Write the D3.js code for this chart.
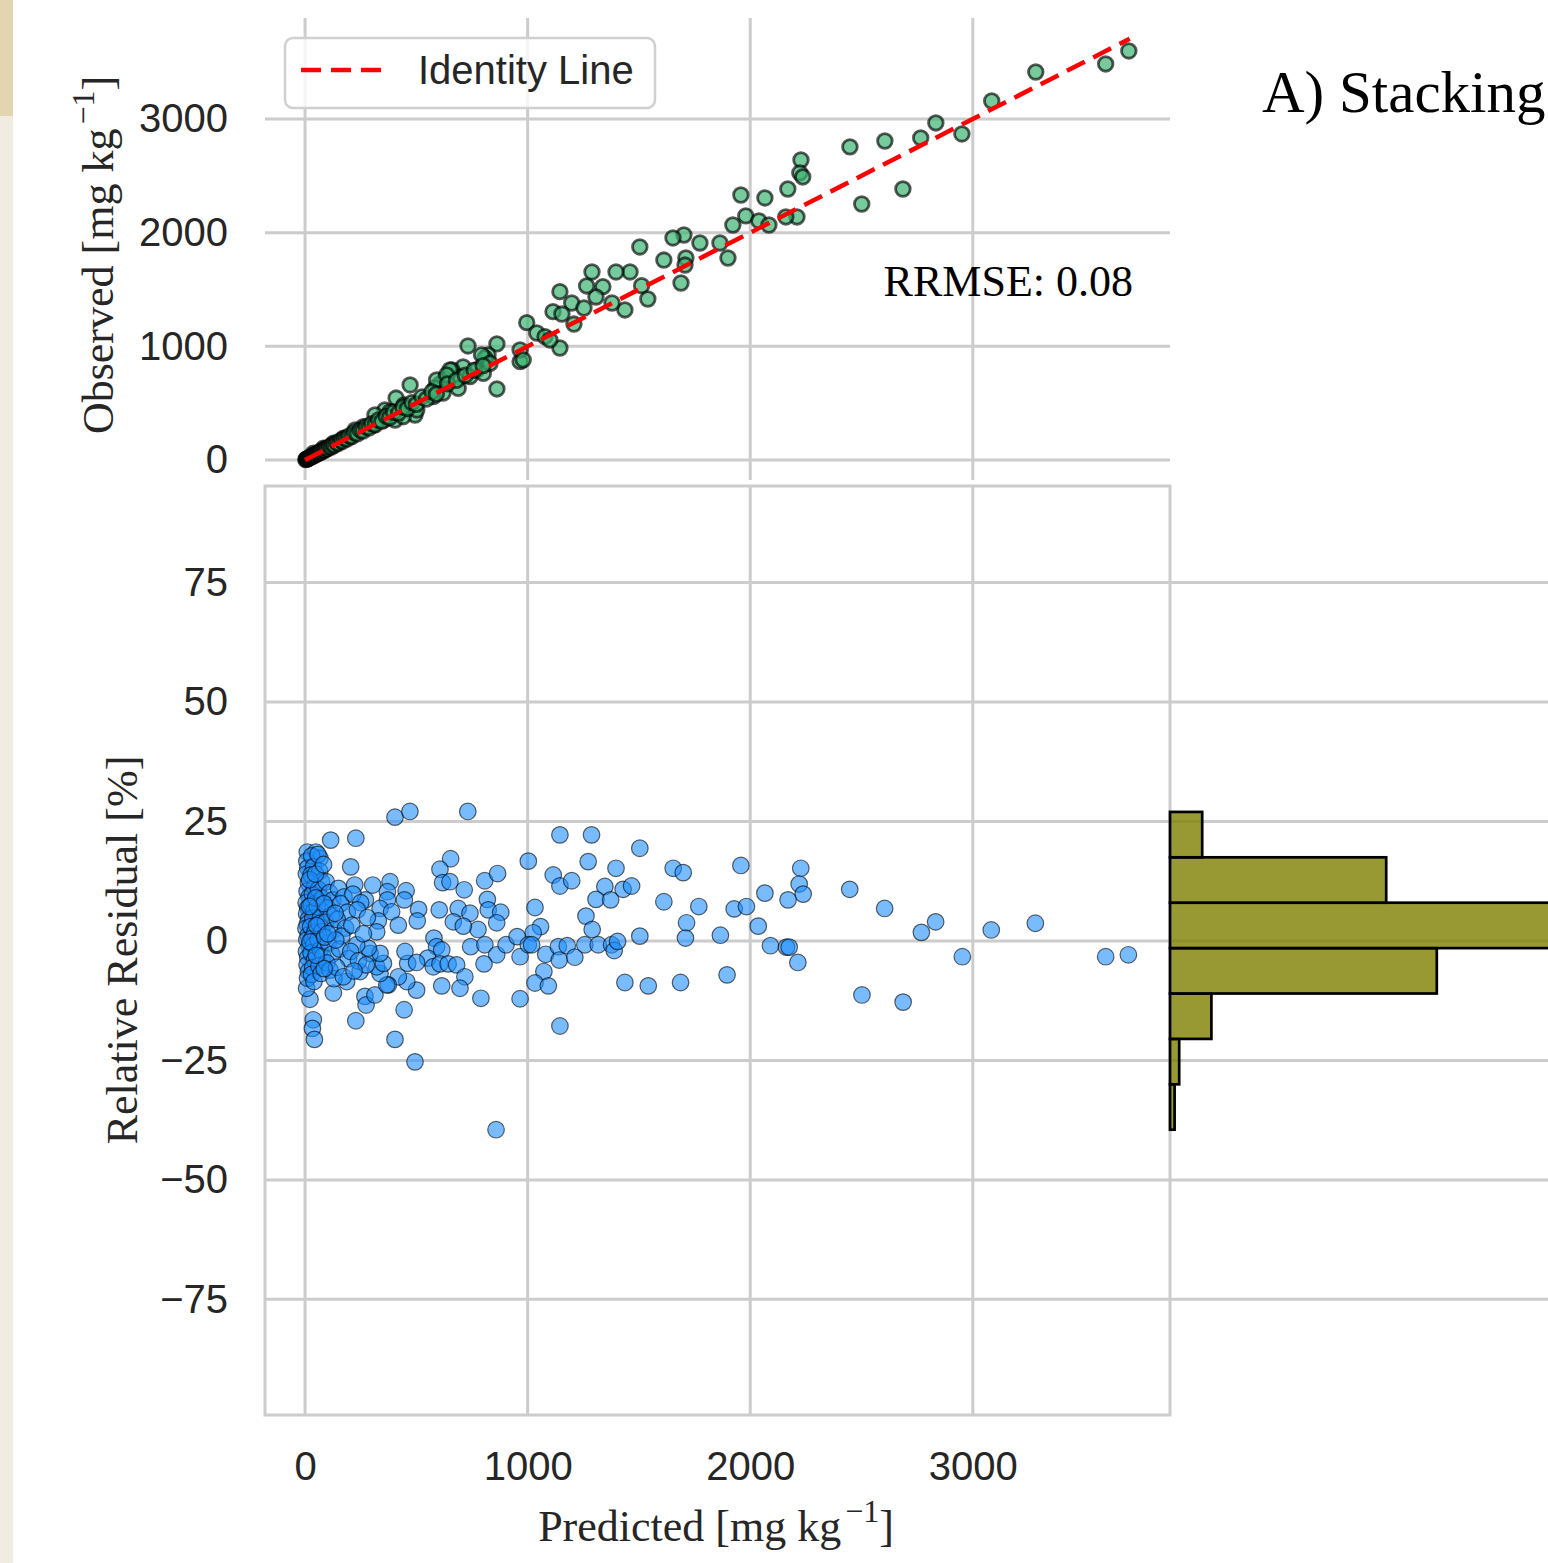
<!DOCTYPE html>
<html>
<head>
<meta charset="utf-8">
<script src="https://cdn.jsdelivr.net/npm/d3@7"></script>
<style>
  body { margin: 0; background: #fff; }
  svg { display: block; }
</style>
</head>
<body>
<div id="chart"></div>
<script>
const width = 1548;
const height = 1563;

// ticks
const xTicks = [0, 1000, 2000, 3000];
const obsTicks = [0, 1000, 2000, 3000];
const resTicks = [-75, -50, -25, 0, 25, 50, 75];

// observed vs predicted, [predicted, observed]
const obsPoints = [
  [3701, 3598], [3597, 3484], [3283, 3413], [3085, 3158], [2951, 2868], [2834, 2965],
  [2766, 2833], [2605, 2806], [2448, 2754], [2686, 2384], [2501, 2252], [2228, 2639],
  [2223, 2525], [2236, 2490], [2169, 2384], [2210, 2138], [2160, 2138], [2066, 2305],
  [1958, 2331], [1980, 2147], [1922, 2067], [2039, 2103], [2084, 2067], [1864, 1909],
  [1900, 1777], [1774, 1909], [1702, 1979], [1653, 1953], [1612, 1759], [1711, 1777],
  [1707, 1715], [1689, 1557], [1504, 1874], [1460, 1654], [1397, 1654], [1289, 1654],
  [1512, 1533], [1540, 1416], [1437, 1320], [1338, 1525], [1307, 1434], [1265, 1531],
  [1379, 1381], [1145, 1481], [1198, 1381], [1114, 1305], [1154, 1284], [1253, 1337],
  [1208, 1196], [996, 1208], [1041, 1117], [1078, 1085], [1145, 985], [1100, 1056],
  [966, 865], [966, 968], [862, 1021], [862, 625], [732, 1003], [822, 924], [808, 897],
  [772, 792], [710, 818], [660, 792], [629, 713], [606, 669], [584, 633], [696, 730],
  [472, 660], [409, 545], [494, 396], [445, 484], [359, 440], [404, 352], [314, 396],
  [620, 589], [651, 792], [591, 704], [636, 748], [741, 733], [793, 924], [801, 763],
  [831, 851], [980, 880], [576, 557], [688, 631], [457, 469], [502, 440], [441, 381],
  [382, 425], [352, 352], [307, 308], [262, 293], [225, 264], [202, 205], [172, 191],
  [127, 147], [82, 103], [37, 59],
  [3, 4], [6, 5], [8, 10], [11, 12], [14, 13], [17, 19], [20, 21], [24, 23], [27, 30],
  [31, 30], [35, 38], [38, 36], [42, 46], [46, 45], [50, 52], [55, 58], [58, 56], [63, 68],
  [68, 66], [72, 78], [78, 76], [84, 90], [90, 88], [96, 104], [102, 100], [110, 118],
  [118, 114], [125, 134], [133, 130], [142, 152], [150, 146], [160, 172], [168, 165],
  [178, 190], [188, 184], [198, 212], [210, 206], [222, 240], [235, 230], [248, 262],
  [260, 255], [275, 292], [288, 282], [300, 320], [315, 310], [330, 352], [345, 340],
  [365, 385], [380, 372], [398, 420], [420, 412], [440, 465], [460, 452], [480, 505],
  [500, 490], [525, 555], [545, 535], [570, 600], [590, 580], [640, 670], [680, 700],
  [720, 745], [760, 790], [800, 830]
];

// relative residual vs predicted, [predicted, residual %]
const resPoints = [
  [404, 25.9], [471, 27.1], [731, 27.1], [115, 21.1], [228, 21.5], [10, 18.6], [49, 18.6],
  [67, 17.3], [205, 15.5], [654, 17.2], [606, 15.0], [618, 12.2], [651, 12.4], [715, 10.7],
  [807, 12.6], [865, 14.1], [819, 8.7], [823, 6.5], [879, 6.0], [861, 3.8], [777, 2.4],
  [603, 6.5], [688, 6.8], [741, 5.8], [666, 4.0], [711, 3.1], [510, 6.6], [504, 4.2],
  [454, 10.5], [446, 8.6], [382, 12.4], [304, 11.7], [370, 10.3], [370, 8.6], [337, 6.8],
  [389, 6.1], [329, 4.2], [419, 3.3], [322, 1.9], [223, 11.7], [271, 8.6], [1003, 16.7],
  [1033, 7.0], [1058, 3.0], [1025, 1.7], [1115, 13.8], [1145, 11.5], [1198, 12.6],
  [1145, 22.2], [1287, 22.2], [1272, 16.6], [1397, 15.2], [1504, 19.4], [1347, 11.4],
  [1307, 8.7], [1373, 8.6], [1429, 10.8], [1467, 11.5], [1262, 5.2], [1290, 2.4],
  [1504, 1.0], [1612, 8.2],
  [579, 0.6], [591, -1.2], [614, -1.9], [551, -3.6], [576, -5.4], [606, -4.8], [643, -4.8],
  [681, -5.0], [744, -1.2], [808, -0.8], [861, -2.9], [903, -0.8], [953, 0.9], [966, -3.3],
  [1003, -0.8], [1018, -0.8], [1081, -2.8], [1138, -1.2], [1142, -4.0], [1178, -1.0],
  [1212, -3.4], [1257, -0.8], [1317, -0.8], [1377, -0.8], [1389, -2.0], [1404, -0.1],
  [804, -4.8], [718, -7.5], [614, -9.4], [696, -9.9], [501, -10.3], [457, -8.5], [461, -4.7],
  [449, -2.2], [501, -4.5], [419, -7.5], [374, -9.2], [966, -12.1], [1073, -6.4],
  [1033, -8.8], [1093, -9.4], [790, -12.0], [1145, -17.8], [1437, -8.7], [1542, -9.4],
  [445, -14.4], [404, -20.6], [494, -25.3], [858, -39.5], [228, -16.7], [269, -11.6],
  [274, -13.4], [314, -11.3], [367, -9.2], [337, -6.8], [127, -10.9], [187, -8.5],
  [22, -12.2], [7, -9.9], [37, -16.5], [33, -18.3], [42, -20.6], [247, -6.4], [322, -5.4],
  [352, -4.7], [292, -2.6], [337, -2.6], [284, -1.5], [232, -0.8],
  [1654, 15.2], [1699, 14.3], [1958, 15.8], [2227, 15.2], [2220, 11.9], [2238, 9.8],
  [2066, 10.0], [2170, 8.6], [2447, 10.8], [2604, 6.8], [2833, 4.0], [2769, 1.8],
  [3083, 2.3], [3281, 3.7], [2953, -3.3], [3597, -3.3], [3699, -2.9], [1769, 7.2],
  [1714, 3.8], [1709, 0.6], [1866, 1.2], [1928, 6.7], [1983, 7.2], [2036, 3.1],
  [2091, -1.0], [2163, -1.3], [2175, -1.3], [2214, -4.5], [1687, -8.7], [1896, -7.1],
  [2502, -11.3], [2687, -12.8],
  // dense cluster at low predicted values
  [8, 16.7], [12, 15.3], [6, 14.0], [15, 12.1], [9, 10.4], [18, 9.2], [5, 8.0], [12, 6.9],
  [7, 5.7], [16, 4.6], [10, 3.5], [4, 2.6], [14, 1.2], [8, 0.2], [18, -1.0], [6, -2.2],
  [12, -3.5], [9, -5.0], [15, -6.4], [11, -7.8],
  [30, 17.8], [38, 15.5], [27, 13.8], [42, 11.2], [33, 9.8], [28, 7.5], [40, 6.2],
  [35, 4.8], [25, 3.0], [44, 1.8], [31, 0.5], [38, -0.9], [27, -2.5], [42, -4.0],
  [34, -5.6], [29, -7.0], [40, -8.5],
  [58, 18.1], [66, 14.6], [74, 12.4], [60, 10.8], [78, 8.9], [55, 7.2], [70, 5.0],
  [63, 3.6], [76, 2.0], [58, 0.3], [68, -1.8], [80, -3.2], [62, -5.2], [72, -6.8],
  [95, 12.4], [110, 10.1], [125, 8.6], [100, 6.9], [118, 5.4], [92, 3.9], [128, 2.3],
  [105, -0.4], [120, -2.8], [98, -4.6], [112, -6.1], [130, -7.9],
  [150, 11.0], [175, 9.2], [160, 7.8], [190, 6.0], [145, 4.5], [182, 2.7], [165, 1.0],
  [155, -1.7], [195, -3.7], [142, -5.5], [172, -7.5],
  [215, 9.8], [250, 8.0], [235, 6.5], [280, 4.9], [210, 3.3], [262, 1.5],
  [205, -2.2], [240, -4.2], [275, -5.0], [220, -6.3],
  [20, 12.8], [48, 9.0], [85, 7.8], [52, 3.2], [22, -0.2], [88, 0.8], [135, 5.8],
  [50, -3.0], [86, -5.8], [138, 0.2], [20, 7.2], [47, 14.0], [83, 16.0], [102, 1.5]
];

// residual histogram (bin edges in %, counts per bin, bottom to top)
const histEdges = [-39.5, -30.0, -20.5, -11.0, -1.5, 8.0, 17.5, 27.0];
const histCounts = [1, 2, 9, 58, 95, 47, 7];

const identityRange = [0, 3705];
const rrmse = "0.08";

const sans = "'Liberation Sans', Arial, 'DejaVu Sans', sans-serif";
const serif = "'Liberation Serif', 'Times New Roman', serif";
const gridColor = "#cccccc";
const textColor = "#262626";
const tickFmt = d3.format('d');

const svg = d3.select('#chart')
  .append('svg')
  .attr('width', width)
  .attr('height', height)
  .attr('viewBox', [0, 0, width, height]);

// page edge strip
svg.append('rect').attr('x', 0).attr('y', 0).attr('width', 13).attr('height', 116).attr('fill', '#e2d5b0');
svg.append('rect').attr('x', 0).attr('y', 116).attr('width', 13).attr('height', height - 116).attr('fill', '#f0ece1');

const x = d3.scaleLinear().domain([-180, 3886]).range([265, 1170]);
const yObs = d3.scaleLinear().domain([-176, 3888]).range([480, 18]);
const yRes = d3.scaleLinear().domain([-99.2, 95.2]).range([1415, 486]);
const xHist = d3.scaleLinear().domain([0, 100]).range([1170, 1630]);

// ---- top panel: observed vs predicted ----
const topPanel = svg.append('g');

topPanel.append('g')
  .selectAll('line')
  .data(xTicks)
  .join('line')
    .attr('x1', d => x(d)).attr('x2', d => x(d))
    .attr('y1', 18).attr('y2', 480)
    .attr('stroke', gridColor).attr('stroke-width', 3);

topPanel.append('g')
  .selectAll('line')
  .data(obsTicks)
  .join('line')
    .attr('x1', 265).attr('x2', 1170)
    .attr('y1', d => yObs(d)).attr('y2', d => yObs(d))
    .attr('stroke', gridColor).attr('stroke-width', 3);

topPanel.append('g')
  .selectAll('circle')
  .data(obsPoints)
  .join('circle')
    .attr('cx', d => x(d[0]))
    .attr('cy', d => yObs(d[1]))
    .attr('r', 7.3)
    .attr('fill', '#3cb371')
    .attr('fill-opacity', 0.7)
    .attr('stroke', '#000')
    .attr('stroke-opacity', 0.65)
    .attr('stroke-width', 2.8);

topPanel.append('line')
  .attr('x1', x(identityRange[0])).attr('y1', yObs(identityRange[0]))
  .attr('x2', x(identityRange[1])).attr('y2', yObs(identityRange[1]))
  .attr('stroke', '#ff0000')
  .attr('stroke-width', 4.5)
  .attr('stroke-dasharray', '20,9.5');

function yAxisObs(g) {
  g.attr('transform', 'translate(265,0)')
    .call(d3.axisLeft(yObs).tickValues(obsTicks).tickFormat(tickFmt).tickSize(0).tickPadding(37))
    .call(g => g.select('.domain').remove())
    .selectAll('text')
      .attr('font-family', sans)
      .attr('font-size', 40)
      .attr('fill', textColor);
}
topPanel.append('g').call(yAxisObs);

// legend
const legend = topPanel.append('g');
legend.append('rect')
  .attr('x', 285).attr('y', 38).attr('width', 370).attr('height', 70).attr('rx', 8)
  .attr('fill', '#fff').attr('fill-opacity', 0.8)
  .attr('stroke', '#d0d0d0').attr('stroke-width', 2.5);
legend.append('line')
  .attr('x1', 301).attr('x2', 382).attr('y1', 70).attr('y2', 70)
  .attr('stroke', '#ff0000').attr('stroke-width', 4.5)
  .attr('stroke-dasharray', '20,10');
legend.append('text')
  .attr('x', 418).attr('y', 84)
  .attr('font-family', sans).attr('font-size', 40).attr('fill', textColor)
  .text('Identity Line');

topPanel.append('text')
  .attr('x', 1133).attr('y', 296)
  .attr('text-anchor', 'end')
  .attr('font-family', serif).attr('font-size', 44).attr('fill', '#000')
  .text('RRMSE: ' + rrmse);

// axis label with superscript unit
function unitLabel(sel, prefix) {
  sel.append('tspan').text(prefix + ' [mg kg');
  sel.append('tspan').attr('font-size', 32).attr('dx', 4).attr('dy', -19).text('\u22121');
  sel.append('tspan').attr('dy', 19).text(']');
}
topPanel.append('text')
  .attr('transform', 'translate(113,255) rotate(-90)')
  .attr('text-anchor', 'middle')
  .attr('font-family', serif).attr('font-size', 44).attr('fill', textColor)
  .call(unitLabel, 'Observed');

// ---- bottom panel: relative residual ----
const bottomPanel = svg.append('g');

bottomPanel.append('g')
  .selectAll('line')
  .data(xTicks)
  .join('line')
    .attr('x1', d => x(d)).attr('x2', d => x(d))
    .attr('y1', 486).attr('y2', 1415)
    .attr('stroke', gridColor).attr('stroke-width', 3);

bottomPanel.append('g')
  .selectAll('line')
  .data(resTicks)
  .join('line')
    .attr('x1', 265).attr('x2', width)
    .attr('y1', d => yRes(d)).attr('y2', d => yRes(d))
    .attr('stroke', gridColor).attr('stroke-width', 3);

// frame
bottomPanel.append('rect')
  .attr('x', 265).attr('y', 486).attr('width', 1170 - 265).attr('height', 1415 - 486)
  .attr('fill', 'none').attr('stroke', gridColor).attr('stroke-width', 3);

bottomPanel.append('g')
  .selectAll('circle')
  .data(resPoints)
  .join('circle')
    .attr('cx', d => x(d[0]))
    .attr('cy', d => yRes(d[1]))
    .attr('r', 8.3)
    .attr('fill', '#1e90ff')
    .attr('fill-opacity', 0.6)
    .attr('stroke', '#000')
    .attr('stroke-opacity', 0.6)
    .attr('stroke-width', 1.2);

function yAxisRes(g) {
  g.attr('transform', 'translate(265,0)')
    .call(d3.axisLeft(yRes).tickValues(resTicks).tickFormat(tickFmt).tickSize(0).tickPadding(37))
    .call(g => g.select('.domain').remove())
    .selectAll('text')
      .attr('font-family', sans)
      .attr('font-size', 40)
      .attr('fill', textColor);
}
bottomPanel.append('g').call(yAxisRes);

function xAxis(g) {
  g.attr('transform', 'translate(0,1415)')
    .call(d3.axisBottom(x).tickValues(xTicks).tickFormat(tickFmt).tickSize(0).tickPadding(37))
    .call(g => g.select('.domain').remove())
    .selectAll('text')
      .attr('font-family', sans)
      .attr('font-size', 40)
      .attr('fill', textColor);
}
bottomPanel.append('g').call(xAxis);

bottomPanel.append('text')
  .attr('transform', 'translate(137,950) rotate(-90)')
  .attr('text-anchor', 'middle')
  .attr('font-family', serif).attr('font-size', 44).attr('fill', textColor)
  .text('Relative Residual [%]');

bottomPanel.append('text')
  .attr('x', 716).attr('y', 1541)
  .attr('text-anchor', 'middle')
  .attr('font-family', serif).attr('font-size', 44).attr('fill', textColor)
  .call(unitLabel, 'Predicted');

// ---- marginal histogram ----
const bins = histCounts.map((c, i) => ({ lo: histEdges[i], hi: histEdges[i + 1], count: c }));

svg.append('g')
  .selectAll('rect')
  .data(bins)
  .join('rect')
    .attr('x', xHist(0))
    .attr('y', d => yRes(d.hi))
    .attr('width', d => xHist(d.count) - xHist(0))
    .attr('height', d => yRes(d.lo) - yRes(d.hi))
    .attr('fill', '#808000')
    .attr('fill-opacity', 0.8)
    .attr('stroke', '#000')
    .attr('stroke-width', 2.7);

// panel title
svg.append('text')
  .attr('x', 1262).attr('y', 112)
  .attr('font-family', serif).attr('font-size', 59).attr('fill', '#000')
  .text('A) Stacking');
</script>
</body>
</html>
